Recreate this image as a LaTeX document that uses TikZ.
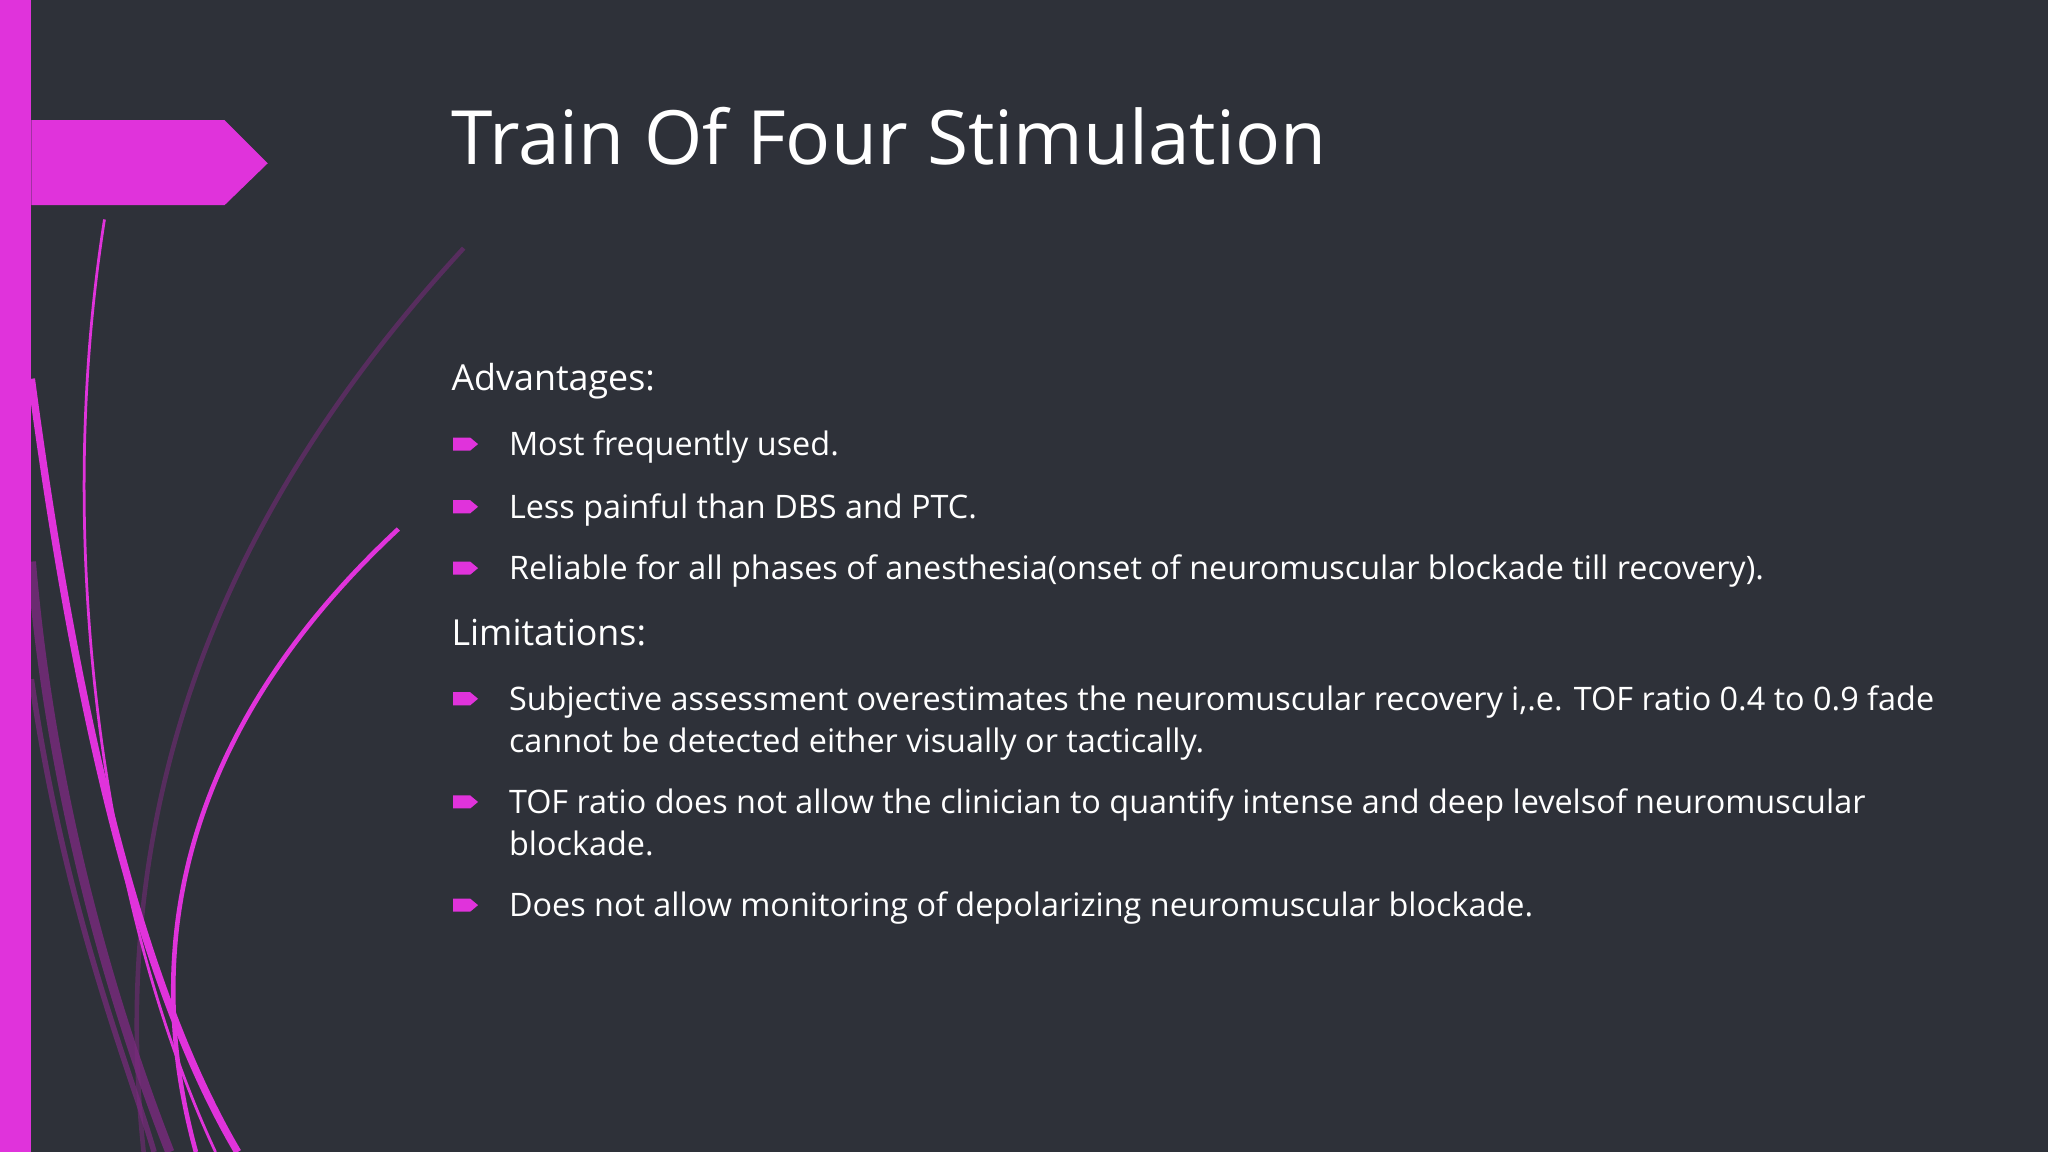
\documentclass[tikz,border=0pt]{standalone}
\usepackage{fontspec}
\setmainfont{Open Sans}
\definecolor{bg}{HTML}{2E3139}
\definecolor{mag}{HTML}{E033DB}
\definecolor{dmag}{HTML}{7A2A7E}
\begin{document}
\begin{tikzpicture}[x=0.01cm,y=-0.01cm,
  body/.style={anchor=base west,text=white,font=\fontsize{7.05}{9}\selectfont,inner sep=0},
  head/.style={anchor=base west,text=white,font=\fontsize{7.8}{10}\selectfont,inner sep=0}]
\fill[bg] (0,0) rectangle (1568,882);
\useasboundingbox (0,0) rectangle (1568,882);
% curves
\draw[dmag,line width=1pt,opacity=.55] (355,190) .. controls (180,380) and (80,600) .. (110,882);
\draw[dmag,line width=2pt,opacity=.8] (24,430) .. controls (40,620) and (90,780) .. (130,882);
\draw[dmag,line width=1.2pt,opacity=.7] (24,520) .. controls (50,700) and (100,820) .. (118,882);
\draw[mag,line width=0.6pt] (80,168) .. controls (40,420) and (80,700) .. (165,882);
\draw[mag,line width=1.6pt] (24,290) .. controls (60,560) and (110,760) .. (182,882);
\draw[mag,line width=1pt] (305,405) .. controls (160,540) and (100,700) .. (150,882);
% bar and banner
\fill[mag] (0,0) rectangle (24,882);
\fill[mag] (24,92) -- (172,92) -- (205,125) -- (172,157) -- (24,157) -- cycle;
% title
\node[anchor=base west,text=white,font=\fontsize{16.3}{20}\selectfont,inner sep=0] (title) at (345,126) {Train Of Four Stimulation};
\node[head] (adv) at (345,299) {Advantages:};
\node[head] (lim) at (345,494) {Limitations:};
\foreach \y in {340,388,435,535,614,693}{
  \fill[mag] (347,\y-5) -- (360,\y-5) -- (366,\y) -- (360,\y+5) -- (347,\y+5) -- cycle;
}
\node[body] (t1) at (389,349) {Most frequently used.};
\node[body] (t2) at (389,397) {Less painful than DBS and PTC.};
\node[body] (t3) at (389,444) {Reliable for all phases of anesthesia(onset of neuromuscular blockade till recovery).};
\node[body] (t4) at (389,544) {Subjective assessment overestimates the neuromuscular recovery i,.e. TOF ratio 0.4 to 0.9 fade};
\node[body] (t4b) at (389,576) {cannot be detected either visually or tactically.};
\node[body] (t5) at (389,623) {TOF ratio does not allow the clinician to quantify intense and deep levelsof neuromuscular};
\node[body] (t5b) at (389,655) {blockade.};
\node[body] (t6) at (389,702) {Does not allow monitoring of depolarizing neuromuscular blockade.};
\end{tikzpicture}
\end{document}
